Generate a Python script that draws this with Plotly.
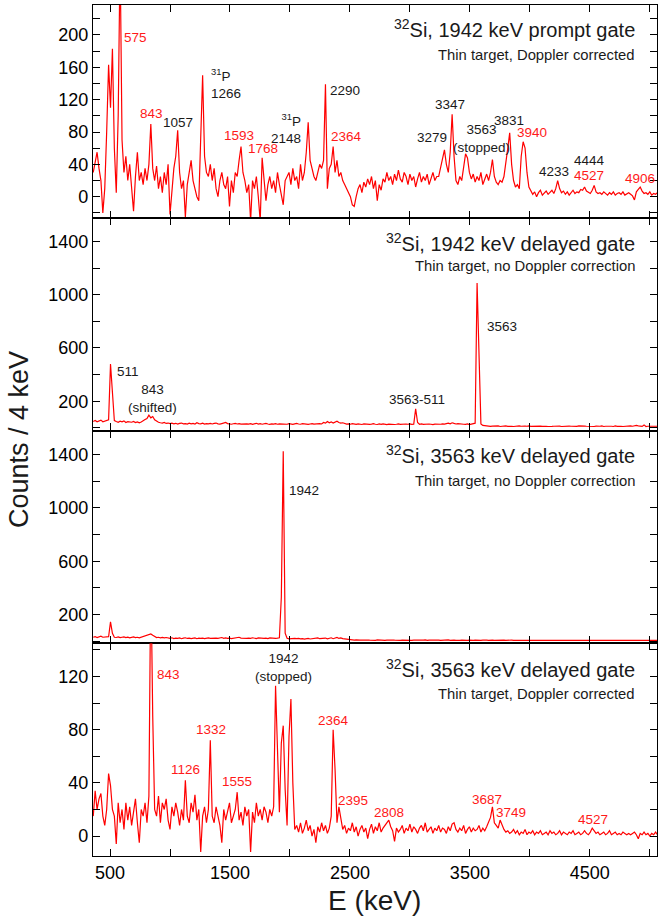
import plotly.graph_objects as go
from plotly.subplots import make_subplots

# ---------------- data (counts per 4 keV, 16 keV sampling) ----------------
E_START = 360   # keV, first bin centre
E_STEP = 16     # keV between samples

# Panel 1: 32Si, 1942 keV prompt gate, Doppler corrected
prompt_1942_dc = [
    30, 45, 55, 35, 20, -20, 10, 80, 163, 110, 183, 60, 5, 100, 300, 70, 30, 50, 20, 40,
    10, -18, 25, 55, 20, 30, 15, 35, 20, 40, 90, 35, 20, 38, 10, 25, 5, 30, 15, 40,
    -22, 10, 35, 50, 82, 30, 10, 20, -25, 15, 30, 45, 20, 10, 0, -5, 60, 150, 50, 30,
    25, 40, 20, 35, 10, 0, 20, 30, 15, 10, 25, -12, 20, 5, 30, 25, 45, 62, 30, 20,
    5, 15, -30, 20, 10, 25, 0, -30, 48, 20, -5, 15, 25, 10, 20, 5, 30, 15, 0, -10,
    20, 25, 30, 15, 35, 20, 25, 10, 40, 20, 30, 55, 92, 45, 35, 25, 20, 30, 40, 35,
    45, 139, 10, 35, 40, 62, 30, 45, 25, 30, 20, 15, 10, 5, 0, -10, -12, 0, 10, 15,
    5, 18, 12, 22, 15, 25, 10, 20, -5, 15, 8, 22, 18, 30, 20, 25, 15, 28, 20, 33,
    22, 18, 30, 25, 15, 28, 20, 25, 12, 22, 30, 18, 25, 20, 28, 15, 22, 30, 20, 25,
    25, 35, 45, 58, 40, 30, 55, 102, 50, 20, 15, 25, 20, 35, 53, 48, 30, 22, 28, 18,
    25, 20, 30, 15, 22, 28, 20, 30, 46, 25, 18, 15, 20, 18, 25, 40, 60, 79, 40, 20,
    12, 15, 10, 50, 68, 60, 30, 12, 8, 3, 6, 0, 5, 8, 2, 4, 7, 3, 5, 8,
    4, 10, 20, 10, 5, 7, 3, 6, 2, 5, 8, 4, 6, 5, 9, 8, 12, 7, 5, 4,
    8, 14, 6, 4, 5, 3, 6, 4, 2, 5, 3, 6, 2, 4, 5, 3, 6, 2, 4, 5,
    3, 1, -4, 6, 9, 12, 7, 4, 5, 3, 6, 2, 4, 3, 5,
]

# Panel 2: 32Si, 1942 keV delayed gate, no Doppler correction
delayed_1942_nodc = [
    48, 55, 45, 52, 58, 46, 50, 55, 60, 480, 250, 55, 48, 42, 50, 45, 52, 40, 46, 44,
    42, 48, 40, 45, 38, 44, 50, 62, 70, 95, 75, 85, 60, 48, 42, 38, 35, 40, 33, 36,
    32, 35, 30, 34, 28, 33, 36, 30, 32, 28, 35, 30, 33, 29, 38, 32, 30, 35, 28, 32,
    30, 34, 29, 33, 36, 30, 28, 32, 35, 40, 32, 30, 27, 31, 34, 29, 32, 28, 30, 33,
    30, 28, 32, 26, 30, 34, 28, 31, 27, 30, 33, 29, 26, 30, 28, 32, 27, 30, 29, 26,
    30, 27, 32, 28, 26, 30, 33, 29, 27, 31, 28, 30, 26, 29, 32, 28, 30, 27, 31, 29,
    40, 35, 48, 38, 45, 36, 42, 50, 40, 35, 38, 32, 28, 30, 27, 31, 29, 26, 30, 28,
    25, 29, 27, 30, 26, 28, 31, 27, 25, 29, 26, 30, 27, 24, 28, 26, 29, 25, 27, 30,
    26, 28, 25, 29, 27, 30, 26, 28, 143, 40, 27, 30, 26, 28, 25, 29, 27, 24, 28, 26,
    29, 27, 30, 28, 32, 35, 30, 38, 33, 29, 31, 28, 30, 27, 26, 29, 25, 28, 30, 35,
    1088, 575, 30, 18, 15, 12, 14, 11, 13, 15, 12, 14, 10, 13, 12, 15, 11, 13, 12, 10,
    13, 11, 14, 12, 10, 13, 12, 15, 11, 12, 14, 10, 12, 13, 11, 14, 12, 10, 13, 11,
    12, 14, 11, 13, 10, 12, 14, 11, 13, 12, 10, 13, 11, 14, 12, 10, 13, 12, 11, 14,
    12, 10, 13, 11, 12, 14, 10, 12, 13, 11, 12, 10, 14, 11, 13, 12, 10, 12, 11, 13,
    14, 12, 15, 18, 15, 12, 11, 22, 10, 12, 11, 13, 12, 10, 12,
]

# Panel 3: 32Si, 3563 keV delayed gate, no Doppler correction
delayed_3563_nodc = [
    30, 35, 28, 33, 38, 30, 32, 29, 34, 145, 60, 30, 28, 32, 27, 30, 33, 28, 31, 26,
    29, 32, 27, 30, 26, 31, 33, 38, 45, 52, 55, 45, 33, 28, 30, 26, 29, 25, 28, 24,
    22, 26, 20, 24, 21, 25, 19, 23, 26, 21, 24, 20, 22, 25, 19, 23, 21, 24, 20, 22,
    25, 21, 23, 20, 24, 22, 26, 28, 22, 25, 21, 24, 20, 23, 22, 26, 30, 24, 22, 25,
    21, 24, 22, 26, 23, 20, 25, 22, 24, 21, 23, 20, 25, 22, 24, 21, 23, 26, 330, 1425,
    60, 22, 18, 20, 17, 21, 19, 22, 18, 20, 16, 19, 21, 17, 20, 18, 22, 25, 19, 21,
    20, 24, 18, 22, 26, 19, 23, 28, 21, 25, 20, 18, 16, 14, 10, 9, 8, 10, 7, 9,
    8, 10, 7, 9, 8, 6, 9, 7, 10, 8, 7, 9, 6, 8, 10, 7, 9, 8, 6, 9,
    7, 9, 8, 6, 10, 8, 7, 9, 6, 8, 9, 7, 8, 10, 6, 9, 7, 8, 9, 6,
    8, 7, 9, 6, 8, 10, 7, 9, 8, 6, 9, 7, 8, 6, 9, 7, 8, 10, 7, 8,
    6, 8, 7, 9, 6, 8, 7, 9, 8, 6, 7, 9, 8, 6, 8, 7, 9, 6, 8, 7,
    7, 9, 6, 8, 7, 6, 8, 7, 9, 6, 8, 7, 6, 8, 9, 7, 6, 8, 7, 6,
    8, 7, 6, 9, 7, 8, 6, 7, 9, 8, 6, 7, 8, 6, 9, 7, 8, 6, 7, 8,
    6, 8, 7, 9, 6, 7, 8, 6, 7, 9, 8, 6, 7, 8, 6, 7, 9, 6, 8, 7,
    7, 6, 8, 7, 9, 6, 8, 7, 6, 8, 7, 6, 8, 7, 6,
]

# Panel 4: 32Si, 3563 keV delayed gate, Doppler corrected
delayed_3563_dc = [
    15, 34, 20, 28, 32, 15, 8, 20, 47, 38, 20, 15, -6, 25, 10, 20, 5, 25, 12, 22,
    8, 18, 28, 10, -5, 20, 15, 25, 10, 30, 200, 90, 20, 15, 30, 10, 25, 20, 28, 12,
    5, 22, 15, 25, 18, 8, 20, 12, 42, 15, 10, 25, 18, 31, 12, 20, -12, 15, 22, 10,
    20, 72, 15, 10, 22, 15, 8, -5, 20, 12, 18, 25, 10, 15, 20, 33, 12, 18, 8, 22,
    15, 20, -12, 18, 10, 25, 15, 20, 12, 22, 18, 10, 20, 15, 22, 113, 60, 18, 70, 83,
    35, 8, 75, 103, 40, 5, 8, 3, 10, 2, 6, 12, 4, 8, 0, 5, -5, 7, 3, 10,
    4, 8, 2, 6, 15, 80, 50, 10, 22, 12, 5, 8, 2, 6, 4, 10, 3, 7, 0, 5,
    8, 3, 6, -2, 5, 9, 2, 7, 4, 10, 3, 6, 8, 10, 12, 7, 4, -4, 6, 3,
    5, 8, 2, 6, 4, 9, 3, 7, 5, 2, 6, 8, 4, 10, 3, 5, 7, 2, 6, 4,
    8, 3, 6, 5, 2, 7, 4, 9, 10, 5, 3, 6, 4, 8, 2, 5, 7, 3, 6, 4,
    5, 8, 3, 6, 4, 7, 10, 14, 22, 10, 8, 6, 12, 8, 5, 3, 4, 2, 3, 5,
    2, 4, 1, 3, 2, 5, 1, 3, 2, 4, 1, 3, 2, 4, 1, 2, 3, 1, 4, 2,
    3, 1, 2, 4, 1, 3, 2, 1, 3, 2, 4, 1, 2, 3, 1, 2, 4, 2, 1, 3,
    6, 4, 2, 3, 1, 2, 3, 1, 2, 4, 1, 2, 3, 1, 2, 1, 3, 2, 1, 2,
    1, 2, 3, 1, -2, 2, 1, 3, 1, 2, 0, 2, 1, 3, 1,
]

X_TICKS = [500, 1000, 1500, 2000, 2500, 3000, 3500, 4000, 4500, 5000]
X_TICK_TEXT = ["500", "", "1500", "", "2500", "", "3500", "", "4500", ""]

PANEL_TITLES = [
    "<sup>32</sup>Si, 1942 keV prompt gate",
    "<sup>32</sup>Si, 1942 keV delayed gate",
    "<sup>32</sup>Si, 3563 keV delayed gate",
    "<sup>32</sup>Si, 3563 keV delayed gate",
]
PANEL_SUBTITLES = [
    "Thin target, Doppler corrected",
    "Thin target, no Doppler correction",
    "Thin target, no Doppler correction",
    "Thin target, Doppler corrected",
]

RED = "#ff1a1a"
BLACK = "#1a1a1a"

# peak labels: (text, energy position, count position, colour, anchor)
LABELS = [
    [
        ("575", 712, 197, RED, "center"),
        ("843", 842, 103, RED, "center"),
        ("1057", 1069, 92, BLACK, "center"),
        ("<sup>31</sup>P<br>1266", 1325, 140, BLACK, "left"),
        ("1593", 1575, 76, RED, "center"),
        ("1768", 1778, 60, RED, "center"),
        ("<sup>31</sup>P<br>2148", 2111, 84, BLACK, "right"),
        ("2290", 2458, 131, BLACK, "center"),
        ("2364", 2472, 74, RED, "center"),
        ("3279", 3183, 73, BLACK, "center"),
        ("3347", 3333, 114, BLACK, "center"),
        ("3563<br>(stopped)", 3594, 72, BLACK, "center"),
        ("3831", 3829, 94, BLACK, "center"),
        ("3940", 4021, 79, RED, "center"),
        ("4233", 4201, 31, BLACK, "center"),
        ("4444", 4496, 45, BLACK, "center"),
        ("4527", 4490, 26, RED, "center"),
        ("4906", 4919, 22.6, RED, "center"),
    ],
    [
        ("511", 650, 425, BLACK, "center"),
        ("843<br>(shifted)", 850, 219, BLACK, "center"),
        ("3563-511", 3062, 213, BLACK, "center"),
        ("3563", 3767, 758, BLACK, "center"),
    ],
    [
        ("1942", 2119, 1132, BLACK, "center"),
    ],
    [
        ("843", 989, 121.8, RED, "center"),
        ("1942<br>(stopped)", 1945, 127, BLACK, "center"),
        ("1332", 1340, 80.3, RED, "center"),
        ("1126", 1128, 50.2, RED, "center"),
        ("1555", 1562, 40.9, RED, "center"),
        ("2364", 2364, 86.8, RED, "center"),
        ("2395", 2523, 27.1, RED, "center"),
        ("2808", 2822, 17.6, RED, "center"),
        ("3687", 3642, 27.6, RED, "center"),
        ("3749", 3844, 17.6, RED, "center"),
        ("4527", 4528, 12.6, RED, "center"),
    ],
]

Y_RANGES = [[-26, 237], [-20, 1578], [-15, 1580], [-15, 145]]
Y_TICKS = [
    list(range(-20, 240, 20)),
    list(range(0, 1600, 200)),
    list(range(0, 1600, 200)),
    list(range(0, 160, 20)),
]
Y_LABELLED = [
    [0, 40, 80, 120, 160, 200],
    [200, 600, 1000, 1400],
    [200, 600, 1000, 1400],
    [0, 40, 80, 120],
]

# ---------------- figure ----------------
FONT = "Liberation Sans, Arial, Helvetica, sans-serif"
W, H = 658, 917
ML, MR, MT, MB = 93, 1, 5, 61

panels = [prompt_1942_dc, delayed_1942_nodc, delayed_3563_nodc, delayed_3563_dc]
energies = [E_START + E_STEP * i for i in range(len(prompt_1942_dc))]

fig = make_subplots(rows=4, cols=1, shared_xaxes=True, vertical_spacing=0)

for r, counts in enumerate(panels, start=1):
    fig.add_trace(
        go.Scatter(x=energies[:len(counts)], y=counts, mode="lines",
                   line=dict(color="#ff0000", width=1.2),
                   showlegend=False, hoverinfo="skip"),
        row=r, col=1)

axis_common = dict(
    showline=True, linecolor="black", linewidth=1.3, mirror="ticks",
    ticks="inside", ticklen=7, tickwidth=1.2, tickcolor="black",
    showgrid=False, zeroline=False,
    tickfont=dict(family=FONT, size=18, color="black"),
)

for r in range(1, 5):
    fig.update_xaxes(range=[358, 5060], tickmode="array", tickvals=X_TICKS,
                     ticktext=X_TICK_TEXT, showticklabels=(r == 4),
                     row=r, col=1, **axis_common)
    yt = Y_TICKS[r - 1]
    fig.update_yaxes(range=Y_RANGES[r - 1], tickmode="array", tickvals=yt,
                     ticktext=[str(v) if v in Y_LABELLED[r - 1] else "" for v in yt],
                     row=r, col=1, **axis_common)

annotations = []
plot_h = H - MT - MB
plot_w = W - ML - MR


def py(ypix):
    return (H - MB - ypix) / plot_h


def px(xpix):
    return (xpix - ML) / plot_w


# panel titles
title_y = [(28.5, 55), (243, 266.5), (454, 481), (668, 694)]
for k in range(4):
    annotations.append(dict(text=PANEL_TITLES[k], xref="paper", yref="paper",
                            x=px(637), y=py(title_y[k][0]), xanchor="right", yanchor="middle",
                            showarrow=False, font=dict(family=FONT, size=20, color=BLACK)))
    annotations.append(dict(text=PANEL_SUBTITLES[k], xref="paper", yref="paper",
                            x=px(637), y=py(title_y[k][1]), xanchor="right", yanchor="middle",
                            showarrow=False, font=dict(family=FONT, size=14.8, color=BLACK)))

# peak labels
for k in range(4):
    xr = "x" if k == 0 else f"x{k + 1}"
    yr = "y" if k == 0 else f"y{k + 1}"
    for text, ex, ey, col, anc in LABELS[k]:
        annotations.append(dict(text=text, xref=xr, yref=yr, x=ex, y=ey,
                                xanchor=anc, yanchor="middle", align=anc,
                                showarrow=False,
                                font=dict(family=FONT, size=13.5, color=col)))

# axis titles
annotations.append(dict(text="E (keV)", xref="paper", yref="paper", x=px(374), y=py(900),
                        xanchor="center", yanchor="middle", showarrow=False,
                        font=dict(family=FONT, size=28, color=BLACK)))
annotations.append(dict(text="Counts / 4 keV", xref="paper", yref="paper", x=px(19), y=py(440),
                        xanchor="center", yanchor="middle", textangle=-90, showarrow=False,
                        font=dict(family=FONT, size=27, color=BLACK)))

fig.update_layout(
    width=W, height=H,
    margin=dict(l=ML, r=MR, t=MT, b=MB),
    paper_bgcolor="white", plot_bgcolor="white",
    annotations=annotations,
    font=dict(family=FONT),
)

fig.write_html("out.html")
